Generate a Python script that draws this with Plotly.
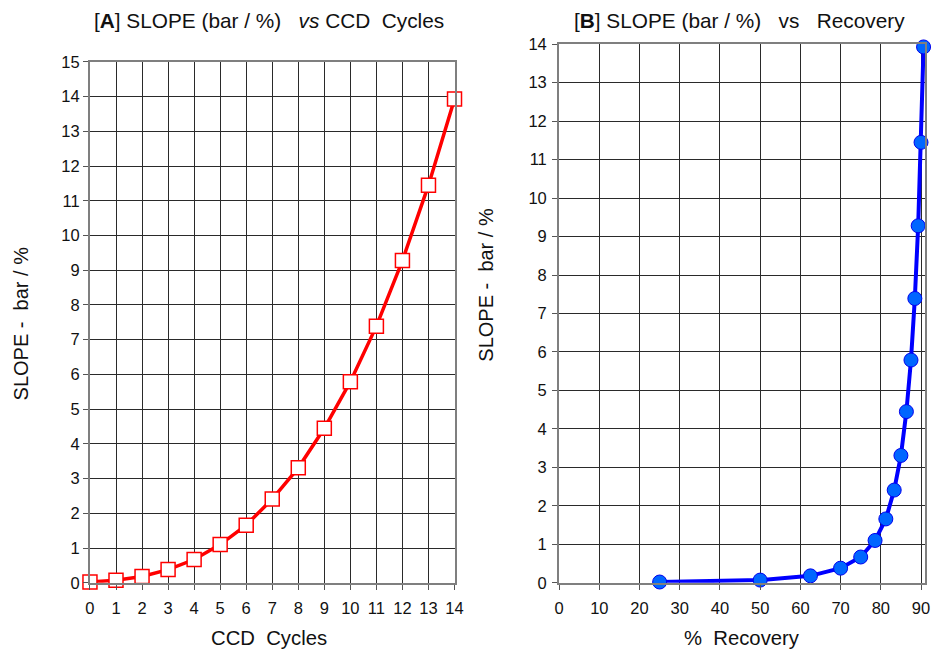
import plotly.graph_objects as go

cycles = list(range(15))
slope = [0.02, 0.07, 0.18, 0.38, 0.67, 1.10, 1.66, 2.41, 3.31, 4.45, 5.79, 7.39, 9.28, 11.45, 13.93]
recovery = [25.0, 50.0, 62.5, 70.0, 75.0, 78.57, 81.25, 83.33, 85.0, 86.36, 87.5, 88.46, 89.29, 90.0, 90.63]

FONT = "Liberation Sans, Arial, sans-serif"
W, H = 939, 653
SP = "\u00a0"

# the rendered page comes out slightly compressed; map target pixel positions to layout pixels
def lx(t):
    return (t - 3) / 0.989
def ly(t):
    return (t - 8) / 0.974
def px_x(t):
    return lx(t) / W
def px_y(t):
    return 1 - ly(t) / H

fig = go.Figure()
fig.add_trace(go.Scatter(
    x=cycles, y=slope, mode="lines+markers", xaxis="x", yaxis="y",
    line=dict(color="#ff0000", width=3.5),
    marker=dict(symbol="square", size=14, color="white", line=dict(color="#ff0000", width=1.5)),
    cliponaxis=False, showlegend=False))
fig.add_trace(go.Scatter(
    x=recovery, y=slope, mode="lines+markers", xaxis="x2", yaxis="y2",
    line=dict(color="#0000ff", width=4),
    marker=dict(symbol="circle", size=14, color="#0066ff", line=dict(color="#0000ee", width=1)),
    cliponaxis=False, showlegend=False))

axis_common = dict(
    showgrid=True, gridcolor="#2a2a2a", gridwidth=1,
    showline=True, linecolor="#7f7f7f", linewidth=2, mirror=True,
    ticks="outside", ticklen=5, tickcolor="#555555", tickwidth=1,
    zeroline=False, tickfont=dict(family=FONT, size=16.5, color="#111111"),
    fixedrange=True,
)

def ann(text, x, y, angle=0, size=20):
    return dict(text=text, x=px_x(x), y=px_y(y), xref="paper", yref="paper",
                xanchor="center", yanchor="middle", showarrow=False, textangle=angle,
                font=dict(family=FONT, size=size, color="#111111"))

title_a = "[<b>A</b>] SLOPE (bar / %)" + SP * 3 + "<i>vs</i> CCD" + SP * 2 + "Cycles"
title_b = "[<b>B</b>] SLOPE (bar / %)" + SP * 3 + "vs" + SP * 3 + "Recovery"
ytitle = "SLOPE -" + SP * 2 + "bar / %"

fig.update_layout(
    width=W, height=H, margin=dict(l=0, r=0, t=0, b=0),
    paper_bgcolor="white", plot_bgcolor="white",
    font=dict(family=FONT, color="#111111"),
    xaxis=dict(axis_common, domain=[px_x(88.3), px_x(454.3)], range=[0, 14], dtick=1, tick0=0,
               anchor="y", ticklabelstandoff=4),
    yaxis=dict(axis_common, domain=[px_y(582.7), px_y(61)], range=[0, 15], dtick=1, tick0=0, anchor="x"),
    xaxis2=dict(axis_common, domain=[px_x(559.3), px_x(926.7)], range=[0, 91],
                tickvals=[0, 10, 20, 30, 40, 50, 60, 70, 80, 90], anchor="y2", ticklabelstandoff=4),
    yaxis2=dict(axis_common, domain=[px_y(582.7), px_y(43.3)], range=[0, 14], dtick=1, tick0=0,
                anchor="x2", ticklabelstandoff=2),
    annotations=[
        ann(title_a, 268, 20, size=20.8),
        ann(title_b, 740, 20, size=20.8),
        ann("CCD" + SP * 2 + "Cycles", 268, 638, size=20.3),
        ann("%" + SP * 2 + "Recovery", 743, 638, size=20.3),
        ann(ytitle, 20, 323, angle=-90),
        ann(ytitle, 485, 284, angle=-90),
    ],
)

fig.write_html("out.html")
